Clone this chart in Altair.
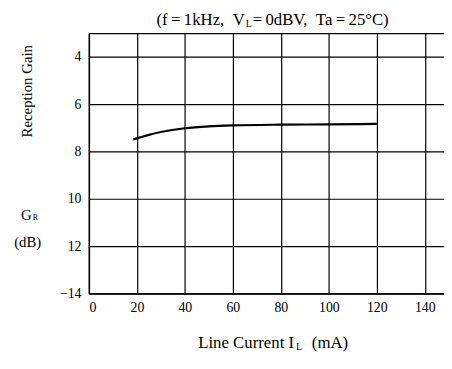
import altair as alt
import pandas as pd

# Data
current = [18.5, 20, 25, 30, 40, 50, 60, 80, 100, 120]
gain = [7.5, 7.45, 7.3, 7.18, 7.02, 6.94, 6.9, 6.87, 6.86, 6.84]
x_ticks = [0, 20, 40, 60, 80, 100, 120, 140]
y_ticks = [3, 4, 6, 8, 10, 12, 14]

df = pd.DataFrame({"I": current, "G": gain})

FONT = "Liberation Serif"
x_scale = alt.Scale(domain=[0, 148], nice=False, zero=False)
y_scale = alt.Scale(domain=[3, 14], reverse=True, nice=False, zero=False)

axis_style = dict(
    grid=True, title=None, ticks=False, tickSize=0,
    domainColor="black", domainWidth=1.5, gridColor="black", gridWidth=1.2,
    gridOpacity=1, labelFont=FONT, labelFontSize=14, labelColor="black",
)

line = alt.Chart(df).mark_line(color="black", strokeWidth=2.2, interpolate="monotone").encode(
    x=alt.X("I:Q", scale=x_scale,
            axis=alt.Axis(values=x_ticks, labelPadding=7, **axis_style)),
    y=alt.Y("G:Q", scale=y_scale,
            axis=alt.Axis(values=y_ticks, labelPadding=8,
                          labelExpr="datum.value == 3 ? '' : datum.value == 14 ? '−14' : datum.label",
                          **axis_style)),
)


def txt(s, x, y, size=14, align="center", angle=0):
    return alt.Chart(pd.DataFrame({"t": [s]})).mark_text(
        text=s, font=FONT, fontSize=size, align=align, baseline="middle",
        angle=angle, color="black"
    ).encode(x=alt.value(x), y=alt.value(y))


NB = "\u00a0"
TS = "\u2009"
# positions are relative to the plot origin (90, 31)
texts = [
    txt(f"(f{TS}={TS}1kHz,{NB}{NB}V", 158, -13, 17, "right"),
    txt("L", 159, -9, 10, "left"),
    txt(f"{TS}={TS}0dBV,{NB}{NB}Ta{TS}={TS}25°C)", 166, -13, 17, "left"),
    txt("Line Current I", 208, 314, 17, "right"),
    txt("L", 210, 318, 10, "left"),
    txt("(mA)", 226, 314, 17, "left"),
    txt("Reception Gain", -63, 59, 15, "center", 270),
    txt("G", -58, 185, 15, "right"),
    txt("R", -57, 188, 8, "left"),
    txt("(dB)", -62, 212, 15, "center"),
]

chart = alt.layer(line, *texts).properties(
    width=360, height=264,
    autosize=alt.AutoSizeParams(type="none"),
    padding={"left": 82, "top": 23, "right": 0, "bottom": 60},
    background="white",
).configure_view(stroke=None).configure_axis(labelFont=FONT)

chart.save("out.html", embed_options={"renderer": "svg", "actions": False})
